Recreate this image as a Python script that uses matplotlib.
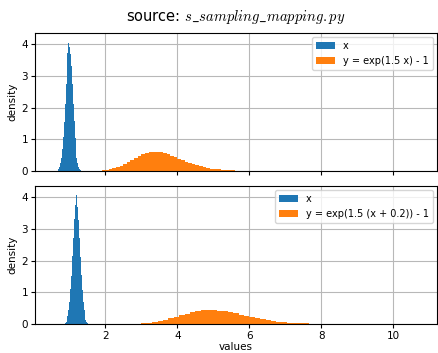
import numpy as np
import matplotlib
matplotlib.use("Agg")
import matplotlib.pyplot as plt

plt.rcParams['mathtext.fontset'] = 'cm'

# --- histogram densities (top: y = exp(1.5 x) - 1, bottom: shifted x) ---
x_top_edges = np.linspace(0.65, 1.40, 31)
x_top_dens = [0.01, 0.03, 0.06, 0.13, 0.24, 0.42, 0.69, 1.07, 1.55, 2.12,
              2.73, 3.29, 3.73, 4.05, 3.92, 3.70, 3.31, 2.75, 2.10, 1.57,
              1.05, 0.70, 0.41, 0.25, 0.13, 0.06, 0.03, 0.01, 0.005, 0.002]

y_top_edges = np.linspace(1.6, 6.6, 51)
y_top_dens = [0.002, 0.005, 0.010, 0.019, 0.032, 0.053, 0.083, 0.121, 0.168, 0.224,
              0.286, 0.350, 0.414, 0.472, 0.523, 0.562, 0.588, 0.610, 0.597, 0.582,
              0.555, 0.520, 0.477, 0.431, 0.384, 0.336, 0.290, 0.248, 0.209, 0.174,
              0.143, 0.116, 0.094, 0.075, 0.060, 0.047, 0.036, 0.028, 0.022, 0.017,
              0.012, 0.010, 0.007, 0.005, 0.004, 0.003, 0.002, 0.002, 0.001, 0.001]

x_bot_edges = np.linspace(0.85, 1.60, 31)
x_bot_dens = [0.01, 0.03, 0.07, 0.12, 0.25, 0.43, 0.68, 1.09, 1.53, 2.15,
              2.70, 3.31, 3.76, 3.96, 4.06, 3.68, 3.27, 2.72, 2.13, 1.54,
              1.08, 0.68, 0.43, 0.24, 0.13, 0.06, 0.03, 0.01, 0.005, 0.002]

y_bot_edges = np.linspace(2.7, 9.0, 43)
y_bot_dens = [0.005, 0.011, 0.020, 0.036, 0.059, 0.090, 0.130, 0.177, 0.229, 0.282,
              0.332, 0.377, 0.411, 0.434, 0.452, 0.441, 0.427, 0.402, 0.371, 0.334,
              0.295, 0.256, 0.218, 0.183, 0.151, 0.123, 0.098, 0.078, 0.061, 0.047,
              0.036, 0.028, 0.021, 0.016, 0.011, 0.008, 0.006, 0.005, 0.003, 0.002,
              0.002, 0.001]

labels_top = ['x', 'y = exp(1.5 x) - 1']
labels_bot = ['x', 'y = exp(1.5 (x + 0.2)) - 1']

fig, axes = plt.subplots(2, 1, figsize=(4.38, 3.53), dpi=100, sharex=True)
fig.subplots_adjust(left=0.080, right=0.997, top=0.9065, bottom=0.082, hspace=0.11)

panels = [
    (axes[0], x_top_edges, x_top_dens, y_top_edges, y_top_dens, labels_top),
    (axes[1], x_bot_edges, x_bot_dens, y_bot_edges, y_bot_dens, labels_bot),
]
for ax, xe, xd, ye, yd, labs in panels:
    ax.stairs(xd, xe, fill=True, color='C0', label=labs[0])
    ax.stairs(yd, ye, fill=True, color='C1', label=labs[1])
    ax.set_ylim(0, 4.35)
    ax.set_yticks([0, 1, 2, 3, 4])
    ax.set_ylabel('density', fontsize=7.5, labelpad=3)
    ax.grid(True, color='#b8b8b8', linewidth=0.8)
    ax.set_axisbelow(True)
    ax.tick_params(labelsize=7.5, length=3, pad=2)
    ax.legend(loc='upper right', fontsize=7, handlelength=2.0,
              borderaxespad=0.4, framealpha=0.8)

axes[1].set_xlim(0.05, 11.2)
axes[1].set_xticks([2, 4, 6, 8, 10])
axes[1].set_xlabel('values', fontsize=7.5, labelpad=1)

axes[0].set_title(r'source: $s\_sampling\_mapping.py$', fontsize=10.5, pad=9)

fig.savefig('out.png', dpi=100)
